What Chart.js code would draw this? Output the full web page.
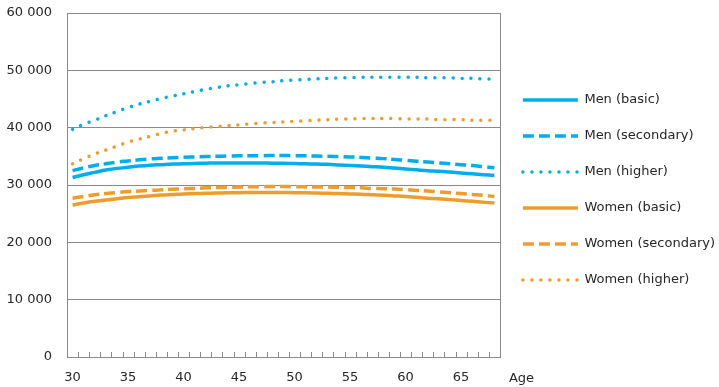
<!DOCTYPE html>
<html>
<head>
<meta charset="utf-8">
<script src="https://cdn.jsdelivr.net/npm/chart.js@4.4.1/dist/chart.umd.min.js"></script>
<style>
  html, body { margin: 0; padding: 0; background: #fff; overflow: hidden; }
  #wrap { width: 725px; height: 387px; }
</style>
</head>
<body>
<div id="wrap"><canvas id="chart"></canvas></div>
<script>
// ages on the x axis (one category per year)
const ages = [30,31,32,33,34,35,36,37,38,39,40,41,42,43,44,45,46,47,48,49,
              50,51,52,53,54,55,56,57,58,59,60,61,62,63,64,65,66,67,68];

const menBasic = [31300,31800,32200,32600,32900,33100,33300,33450,33550,33650,
                  33700,33750,33800,33850,33850,33850,33850,33850,33800,33800,
                  33750,33700,33650,33600,33500,33400,33300,33200,33100,32950,
                  32800,32650,32500,32400,32250,32100,31950,31800,31650];
const menSecondary = [32500,33000,33400,33700,34000,34200,34400,34550,34650,34750,
                      34850,34900,34950,35000,35050,35100,35100,35100,35150,35150,
                      35100,35100,35050,35000,34950,34900,34800,34700,34600,34450,
                      34300,34150,34000,33850,33700,33550,33400,33200,33000];
const menHigher = [39700,40600,41300,42100,42800,43500,44100,44600,45100,45500,
                   45900,46300,46700,47000,47300,47500,47700,47900,48000,48200,
                   48300,48400,48500,48600,48700,48700,48800,48800,48800,48800,
                   48800,48800,48700,48700,48700,48600,48600,48500,48500];
const womenBasic = [26500,26850,27150,27400,27600,27800,27950,28100,28250,28350,
                    28450,28500,28550,28600,28650,28650,28700,28700,28700,28700,
                    28650,28650,28600,28550,28500,28450,28400,28300,28200,28100,
                    28000,27850,27700,27600,27450,27300,27150,27000,26850];
const womenSecondary = [27700,28000,28300,28500,28700,28850,28950,29050,29150,29250,
                        29350,29400,29500,29550,29600,29650,29700,29700,29750,29750,
                        29700,29700,29650,29650,29600,29550,29500,29400,29350,29300,
                        29200,29050,28950,28800,28650,28500,28350,28200,28000];
const womenHigher = [33700,34600,35400,36100,36800,37500,38000,38500,39000,39400,
                     39600,39850,40050,40200,40350,40500,40650,40800,40900,41000,
                     41100,41200,41300,41400,41500,41500,41600,41600,41600,41600,
                     41500,41500,41500,41400,41400,41400,41300,41300,41300];

const yTicks = [0,10000,20000,30000,40000,50000,60000];
const axisTitle = 'Age';

const BLUE = '#00AEEF';
const ORANGE = '#EE9C2C';
const FONT = { family: 'DejaVu Sans', size: 13 };
const TEXT = '#262626';

function line(label, data, color, style) {
  const ds = {
    label: label,
    data: data,
    borderColor: color,
    backgroundColor: color,
    borderWidth: 3.5,
    pointRadius: 0,
    tension: 0.4,
    fill: false
  };
  if (style === 'dash') {
    ds.borderDash = [11, 5];
  } else if (style === 'dot') {
    ds.borderDash = [0.01, 9];
    ds.borderCapStyle = 'round';
  }
  return ds;
}

function spaced(v) {
  return String(v).replace(/\B(?=(\d{3})+(?!\d))/g, ' ');
}

// legend samples drawn as short lines with the dataset's dash
function legendItems(chart) {
  return chart.data.datasets.map((ds, i) => ({
    text: ds.label,
    datasetIndex: i,
    fillStyle: ds.borderColor,
    strokeStyle: ds.borderColor,
    lineWidth: ds.borderWidth,
    lineDash: ds.borderDash || [],
    lineCap: ds.borderCapStyle || 'butt',
    pointStyle: 'line',
    fontColor: TEXT,
    hidden: false
  }));
}

// frame round the plot, small inside ticks on x, and the "Age" label
const framePlugin = {
  id: 'frame',
  beforeDatasetsDraw(chart) {
    const { ctx, chartArea: a, scales: { x } } = chart;
    ctx.save();
    ctx.strokeStyle = '#8a8a8a';
    ctx.lineWidth = 1;
    ctx.strokeRect(Math.round(a.left) + 0.5, Math.round(a.top) + 0.5,
                   Math.round(a.right - a.left), Math.round(a.bottom - a.top));
    ctx.beginPath();
    for (let i = 0; i < ages.length - 1; i++) {
      const px = Math.round((x.getPixelForValue(i) + x.getPixelForValue(i + 1)) / 2) + 0.5;
      ctx.moveTo(px, a.bottom);
      ctx.lineTo(px, a.bottom - 5);
    }
    ctx.stroke();
    ctx.restore();
  },
  afterDraw(chart) {
    const { ctx, chartArea: a } = chart;
    ctx.save();
    ctx.font = FONT.size + 'px ' + FONT.family;
    ctx.fillStyle = TEXT;
    ctx.textBaseline = 'middle';
    ctx.textAlign = 'left';
    ctx.fillText(axisTitle, a.right + 9, a.bottom + 22);
    ctx.restore();
  }
};

new Chart(document.getElementById('chart'), {
  type: 'line',
  data: {
    labels: ages,
    datasets: [
      line('Men (basic)', menBasic, BLUE, 'solid'),
      line('Men (secondary)', menSecondary, BLUE, 'dash'),
      line('Men (higher)', menHigher, BLUE, 'dot'),
      line('Women (basic)', womenBasic, ORANGE, 'solid'),
      line('Women (secondary)', womenSecondary, ORANGE, 'dash'),
      line('Women (higher)', womenHigher, ORANGE, 'dot')
    ]
  },
  options: {
    responsive: true,
    maintainAspectRatio: false,
    animation: false,
    layout: { padding: { left: 7, top: 13, right: 0, bottom: 1 } },
    plugins: {
      tooltip: { enabled: false },
      legend: {
        position: 'right',
        fullSize: false,
        align: 'center',
        maxWidth: 320,
        title: { display: true, text: ' ', font: { size: 5 }, padding: { top: 4, bottom: 0 } },
        labels: {
          usePointStyle: true,
          pointStyleWidth: 55,
          padding: 23,
          color: TEXT,
          font: FONT,
          generateLabels: legendItems
        }
      }
    },
    scales: {
      x: {
        offset: true,
        grid: { display: false, drawTicks: false },
        border: { display: false },
        afterFit: (s) => { s.height = 29; },
        ticks: {
          autoSkip: false,
          maxRotation: 0,
          padding: 13,
          color: TEXT,
          font: FONT,
          callback: function(value) {
            const age = this.getLabelForValue(value);
            return age % 5 === 0 ? String(age) : '';
          }
        }
      },
      y: {
        min: 0,
        max: 60000,
        afterBuildTicks: (scale) => { scale.ticks = yTicks.map(v => ({ value: v })); },
        afterFit: (s) => { s.width = 60; s.paddingTop = 0; s.paddingBottom = 0; },
        grid: { color: '#8a8a8a', lineWidth: 1, drawTicks: false },
        border: { display: false },
        ticks: {
          padding: 15,
          color: TEXT,
          font: FONT,
          callback: (v) => spaced(v)
        }
      }
    }
  },
  plugins: [framePlugin]
});
</script>
</body>
</html>
